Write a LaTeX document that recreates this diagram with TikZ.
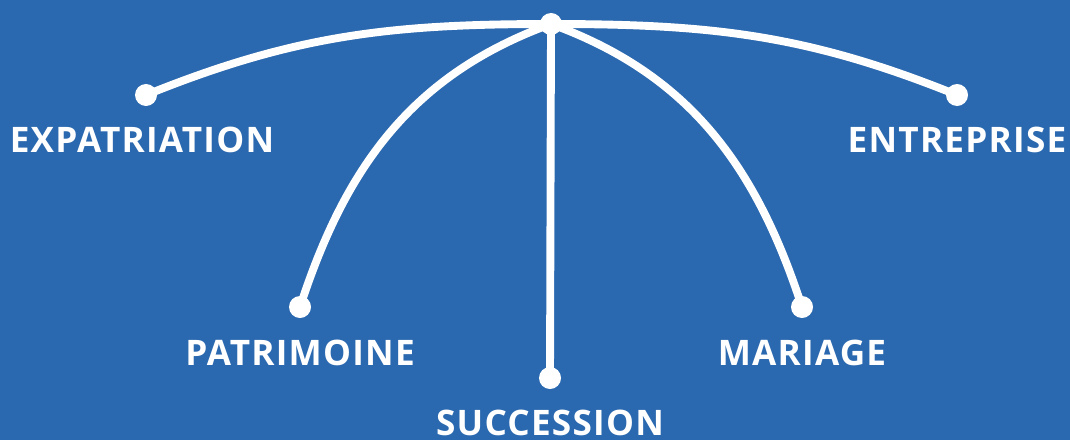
\documentclass[tikz,border=0pt]{standalone}
\usepackage{fontspec}
\setmainfont{Open Sans}
\usepackage{xcolor}
\usepackage{tikz}
\usetikzlibrary{positioning,calc}
\definecolor{bgblue}{HTML}{2A68AF}

\tikzset{
  dot/.style={circle, fill=white, inner sep=0pt, minimum size=0.55cm},
  lbl/.style={text=white, font=\fontsize{25}{28}\selectfont\bfseries\addfontfeature{LetterSpace=3.5}, inner sep=0pt},
  branch/.style={white, line width=5.6pt}
}

\begin{document}
\begin{tikzpicture}[x=0.025cm, y=-0.025cm]
    % Background
    \fill[bgblue] (0,0) rectangle (1070,440);
    \useasboundingbox (0,0) rectangle (1070,440);

    % Hub and end points
    \node[dot] (hub) at (551,24) {};
    \node[dot] (expa) at (146,95) {};
    \node[dot] (patr) at (300,307) {};
    \node[dot] (succ) at (550,378) {};
    \node[dot] (mari) at (802,307) {};
    \node[dot] (entr) at (957,95) {};

    % Branches
    \draw[branch] (hub.center) to[out=180, in=22] (expa.center);
    \draw[branch] (hub.center) to[out=200, in=72] (patr.center);
    \draw[branch] (hub.center) -- (succ.center);
    \draw[branch] (hub.center) to[out=-20, in=108] (mari.center);
    \draw[branch] (hub.center) to[out=0, in=158] (entr.center);

    % Labels
    \node[lbl, below=1.43cm of expa.center, anchor=base, xshift=-0.1cm] (expalbl) {EXPATRIATION};
    \node[lbl, below=1.45cm of patr.center, anchor=base] (patrlbl) {PATRIMOINE};
    \node[lbl, below=1.43cm of succ.center, anchor=base] (succlbl) {SUCCESSION};
    \node[lbl, below=1.45cm of mari.center, anchor=base] (marilbl) {MARIAGE};
    \node[lbl, below=1.43cm of entr.center, anchor=base] (entrlbl) {ENTREPRISE};
\end{tikzpicture}
\end{document}
